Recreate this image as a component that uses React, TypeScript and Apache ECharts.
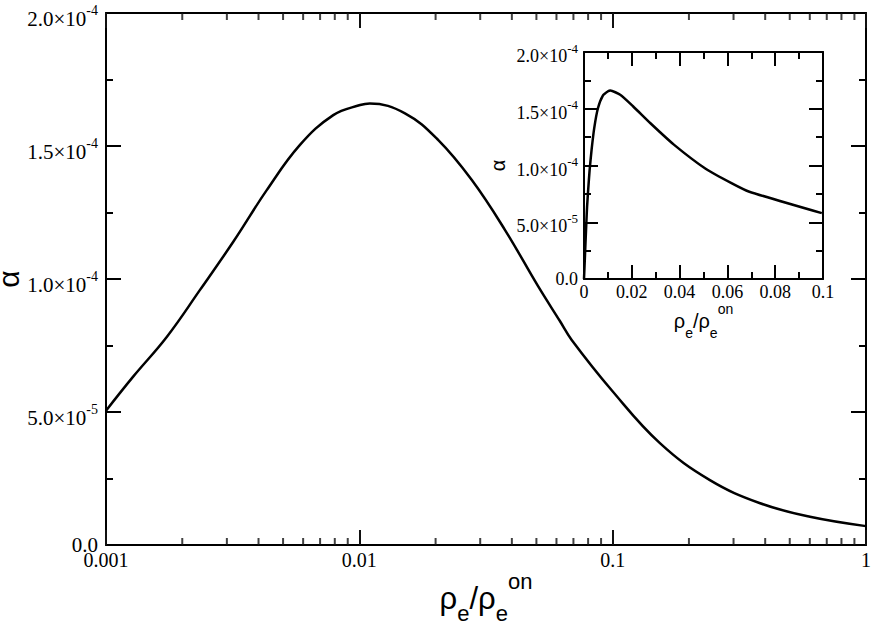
import React, { useEffect, useRef } from "react";
import * as echarts from "echarts";

// ρe/ρe^on values (read from the main, log-x panel)
const rhoRatio = [
  0.001, 0.00128, 0.00174, 0.00235, 0.00318, 0.00431, 0.00583, 0.00789, 0.01007, 0.011,
  0.01514, 0.0205, 0.0278, 0.0376, 0.0509, 0.0619, 0.0689, 0.0995, 0.154, 0.242, 0.382, 0.601, 1.0,
];
const alphaValues = [
  5.05e-5, 6.33e-5, 7.83e-5, 9.59e-5, 1.14e-4, 1.334e-4, 1.504e-4, 1.616e-4, 1.654e-4, 1.66e-4,
  1.623e-4, 1.522e-4, 1.372e-4, 1.184e-4, 9.71e-5, 8.42e-5, 7.71e-5, 5.8e-5, 3.82e-5, 2.44e-5,
  1.57e-5, 1.06e-5, 7.1e-6,
];
// inset starts at the origin
const insetOrigin = [0, 0];

// log-axis minor tick positions
const decades = [0.001, 0.01, 0.1];
const minorMultipliers = [2, 3, 4, 5, 6, 7, 8, 9];

const Y_MIN = 0;
const Y_MAX = 2e-4;

const SERIF = "Liberation Serif";
const SANS = "Liberation Sans";
const INK = "#111111";

function sciLabel(v: number) {
  if (v === 0) return "{z|0.0}";
  const exp = Math.floor(Math.log10(v) + 1e-9);
  const mant = (v / Math.pow(10, exp)).toFixed(1);
  return `{m|${mant}×10}{e|${exp}}`;
}

function sciRich(size: number, supSize: number, mDown: number, eUp: number) {
  return {
    z: { fontFamily: SERIF, fontSize: size, color: "#000" },
    m: { fontFamily: SERIF, fontSize: size, color: "#000", padding: [mDown * 2, 0, 0, 0] },
    e: { fontFamily: SERIF, fontSize: supSize, color: "#000", padding: [0, 0, eUp * 2, 0] },
  };
}

function rhoName() {
  return "{a|ρ}{s|e}{a|/ρ}{s|e}{p|on}";
}

function rhoRich(size: number, sub: number, subDown: number, supUp: number) {
  return {
    a: { fontFamily: SANS, fontSize: size, color: "#000" },
    s: { fontFamily: SANS, fontSize: sub, color: "#000", padding: [subDown * 2, 0, 0, 0] },
    p: { fontFamily: SANS, fontSize: sub, color: "#000", padding: [0, 0, supUp * 2, 0] },
  };
}

export default function App() {
  const ref = useRef<HTMLDivElement>(null);

  useEffect(() => {
    if (!ref.current) return;
    const chart = echarts.init(ref.current, undefined, { renderer: "svg" });

    const mainData = rhoRatio.map((x, i) => [x, alphaValues[i]]);
    const insetData = [insetOrigin].concat(
      rhoRatio.map((x, i) => [x, alphaValues[i]]).filter((p) => p[0] <= 0.1)
    );
    const minorX: number[] = [];
    decades.forEach((d) => minorMultipliers.forEach((m) => minorX.push(d * m)));

    const lineStyleAxis = { color: "#000", width: 2 };

    const logFmt = (v: number) => String(Number(v.toPrecision(3)));

    const minorSeries = (yv: number, offset: number) => ({
      type: "scatter",
      xAxisIndex: 0,
      yAxisIndex: 0,
      data: minorX.map((x) => [x, yv]),
      symbol: "rect",
      symbolSize: [2, 7],
      symbolOffset: [0, offset],
      itemStyle: { color: INK },
      clip: false,
      silent: true,
      z: 5,
    });

    chart.setOption({
      animation: false,
      backgroundColor: "#fff",
      grid: [
        {
          left: 106, top: 13, width: 760, height: 532, containLabel: false,
          outerBoundsMode: "none",
        },
        {
          left: 584, top: 52, width: 239, height: 227, containLabel: false,
          outerBoundsMode: "none",
          show: true, backgroundColor: "#fff", borderWidth: 0,
        },
      ],
      xAxis: [
        {
          type: "log", gridIndex: 0, logBase: 10, min: 0.001, max: 1, position: "bottom",
          axisLine: { show: true, lineStyle: lineStyleAxis },
          axisTick: { show: true, inside: true, length: 15, lineStyle: { color: INK, width: 2 } },
          minorTick: { show: false },
          splitLine: { show: false },
          axisLabel: {
            formatter: logFmt, fontFamily: SERIF, fontSize: 20, color: "#000", margin: 5,
          },
          name: rhoName(),
          nameLocation: "middle",
          nameGap: 25,
          nameMoveOverlap: false,
          nameTextStyle: { rich: rhoRich(31, 22, 14.5, 17.5) },
        },
        {
          type: "log", gridIndex: 0, logBase: 10, min: 0.001, max: 1, position: "top",
          axisLine: { show: true, onZero: false, lineStyle: { color: "#000", width: 2 } },
          axisTick: { show: true, inside: true, length: 15, lineStyle: { color: INK, width: 2 } },
          minorTick: { show: false },
          splitLine: { show: false },
          axisLabel: { show: false },
        },
        {
          type: "value", gridIndex: 1, min: 0, max: 0.1, interval: 0.02, position: "bottom",
          axisLine: { show: true, onZero: false, lineStyle: lineStyleAxis },
          axisTick: { show: true, inside: true, length: 14, lineStyle: lineStyleAxis },
          minorTick: { show: true, splitNumber: 2, length: 7, lineStyle: lineStyleAxis },
          splitLine: { show: false },
          axisLabel: {
            formatter: (v: number) => String(Number(v.toFixed(2))),
            fontFamily: SERIF, fontSize: 18, color: "#000", margin: 4,
          },
          name: rhoName(),
          nameLocation: "middle",
          nameGap: 23,
          nameMoveOverlap: false,
          nameTextStyle: { rich: rhoRich(20, 14, 11.5, 12) },
        },
        {
          type: "value", gridIndex: 1, min: 0, max: 0.1, interval: 0.02, position: "top",
          axisLine: { show: true, onZero: false, lineStyle: lineStyleAxis },
          axisTick: { show: true, inside: true, length: 14, lineStyle: lineStyleAxis },
          minorTick: { show: true, splitNumber: 2, length: 7, lineStyle: lineStyleAxis },
          splitLine: { show: false },
          axisLabel: { show: false },
        },
      ],
      yAxis: [
        {
          type: "value", gridIndex: 0, min: Y_MIN, max: Y_MAX, interval: 5e-5, position: "left",
          axisLine: { show: true, onZero: false, lineStyle: lineStyleAxis },
          axisTick: { show: true, inside: true, length: 15, lineStyle: lineStyleAxis },
          minorTick: { show: true, splitNumber: 2, length: 7, lineStyle: lineStyleAxis },
          splitLine: { show: false },
          axisLabel: {
            formatter: (v: number) => sciLabel(v),
            rich: sciRich(21, 14, 6, 3),
            margin: 8,
          },
          name: "α",
          nameLocation: "middle",
          nameGap: 83,
          nameMoveOverlap: false,
          nameTextStyle: { fontFamily: SANS, fontSize: 30, color: "#000" },
        },
        {
          type: "value", gridIndex: 0, min: Y_MIN, max: Y_MAX, interval: 5e-5, position: "right",
          axisLine: { show: true, onZero: false, lineStyle: lineStyleAxis },
          axisTick: { show: true, inside: true, length: 15, lineStyle: lineStyleAxis },
          minorTick: { show: true, splitNumber: 2, length: 7, lineStyle: lineStyleAxis },
          splitLine: { show: false },
          axisLabel: { show: false },
        },
        {
          type: "value", gridIndex: 1, min: Y_MIN, max: Y_MAX, interval: 5e-5, position: "left",
          axisLine: { show: true, onZero: false, lineStyle: lineStyleAxis },
          axisTick: { show: true, inside: true, length: 14, lineStyle: lineStyleAxis },
          minorTick: { show: true, splitNumber: 2, length: 7, lineStyle: lineStyleAxis },
          splitLine: { show: false },
          axisLabel: {
            formatter: (v: number) => sciLabel(v),
            rich: sciRich(18, 13, 4, 4),
            margin: 6,
          },
          name: "α",
          nameLocation: "middle",
          nameGap: 76,
          nameMoveOverlap: false,
          nameTextStyle: { fontFamily: SANS, fontSize: 20, color: "#000" },
        },
        {
          type: "value", gridIndex: 1, min: Y_MIN, max: Y_MAX, interval: 5e-5, position: "right",
          axisLine: { show: true, onZero: false, lineStyle: lineStyleAxis },
          axisTick: { show: true, inside: true, length: 14, lineStyle: lineStyleAxis },
          minorTick: { show: true, splitNumber: 2, length: 7, lineStyle: lineStyleAxis },
          splitLine: { show: false },
          axisLabel: { show: false },
        },
      ],
      series: [
        {
          type: "line",
          xAxisIndex: 0,
          yAxisIndex: 0,
          data: mainData,
          showSymbol: false,
          smooth: 0.4,
          lineStyle: { color: "#000", width: 2.5 },
          silent: true,
        },
        minorSeries(Y_MIN, -3.5),
        minorSeries(Y_MAX, 3.5),
        {
          type: "line",
          xAxisIndex: 2,
          yAxisIndex: 2,
          data: insetData,
          showSymbol: false,
          smooth: 0.2,
          lineStyle: { color: "#000", width: 2.5 },
          silent: true,
        },
      ],
    });

    return () => chart.dispose();
  }, []);

  return (
    <div
      ref={ref}
      style={{ position: "fixed", left: 0, top: 0, width: 872, height: 623 }}
    />
  );
}
